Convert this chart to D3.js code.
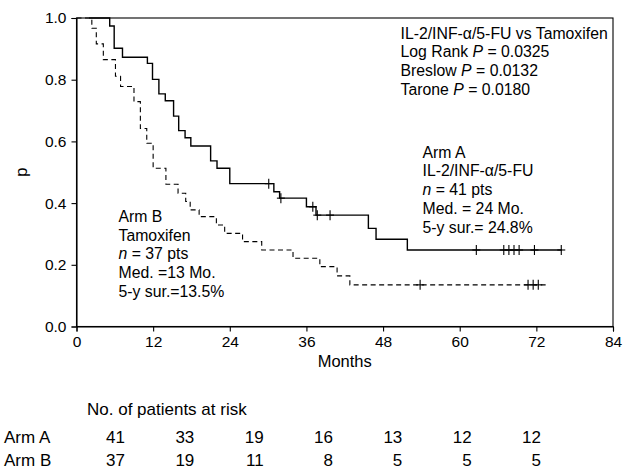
<!DOCTYPE html>
<html><head><meta charset="utf-8">
<script src="https://cdn.jsdelivr.net/npm/d3@7"></script>
<style>
body{margin:0;background:#fff}
svg{display:block}
text{font-family:"Liberation Sans",Arial,Helvetica,sans-serif;fill:#000}
</style>
</head><body>
<svg id="c" width="623" height="469"></svg>
<script>
// ---- data ----
const armATimes = [2, 5.2, 5.9, 7.2, 11.1, 11.9, 12.9, 13.9, 15.2, 16.0, 17.0, 17.9, 21.0, 22.0, 24.0, 30.9, 31.8, 36.0, 37.5, 45.7, 46.9, 51.8, 76.0];
const armASurv  = [1.0, 0.974, 0.902, 0.873, 0.853, 0.801, 0.754, 0.732, 0.682, 0.635, 0.612, 0.585, 0.537, 0.513, 0.463, 0.437, 0.416, 0.388, 0.361, 0.318, 0.283, 0.248, 0.248];
const armACensorTimes = [30.1, 32.0, 37.0, 37.7, 39.7, 62.6, 66.9, 67.7, 68.5, 69.3, 71.7, 75.9];
const armACensorSurv  = [0.463, 0.416, 0.388, 0.361, 0.361, 0.248, 0.248, 0.248, 0.248, 0.248, 0.248, 0.248];

const armBTimes = [0, 2.4, 3.1, 4.2, 6.1, 6.9, 9.0, 10.0, 11.0, 12.0, 14.0, 15.9, 17.1, 17.8, 19.2, 21.9, 23.2, 26.0, 29.0, 33.9, 38.1, 40.8, 42.8, 73.6];
const armBSurv  = [1.0, 0.967, 0.916, 0.865, 0.811, 0.778, 0.729, 0.642, 0.594, 0.513, 0.461, 0.432, 0.405, 0.378, 0.356, 0.329, 0.302, 0.275, 0.248, 0.221, 0.194, 0.164, 0.135, 0.135];
const armBCensorTimes = [53.8, 70.7, 71.5, 72.3];
const armBCensorSurv  = [0.135, 0.135, 0.135, 0.135];

const xTicks = [0, 12, 24, 36, 48, 60, 72, 84];
const yTicks = [0.0, 0.2, 0.4, 0.6, 0.8, 1.0];

const statLines = ["IL-2/INF-α/5-FU vs Tamoxifen", "Log Rank |P| = 0.0325", "Breslow |P| = 0.0132", "Tarone |P| = 0.0180"];
const armALabel = ["Arm A", "IL-2/INF-α/5-FU", "|n| = 41 pts", "Med. = 24 Mo.", "5-y sur.= 24.8%"];
const armBLabel = ["Arm B", "Tamoxifen", "|n| = 37 pts", "Med. =13 Mo.", "5-y sur.=13.5%"];

const riskTitle = "No. of patients at risk";
const riskRows = ["Arm A", "Arm B"];
const riskA = [41, 33, 19, 16, 13, 12, 12];
const riskB = [37, 19, 11, 8, 5, 5, 5];

// ---- chart ----
const svg = d3.select("#c");
const x = d3.scaleLinear().domain([0, 84]).range([76.5, 613]);
const y = d3.scaleLinear().domain([0, 1]).range([326.5, 18]);
const FS = 15.8;
const FR = 17;

// frame
svg.append("rect").attr("x", x(0)).attr("y", y(1)).attr("width", x(84) - x(0)).attr("height", y(0) - y(1))
  .attr("fill", "none").attr("stroke", "#000").attr("stroke-width", 1.1);

const xAxis = svg.append("g").attr("transform", `translate(0,${y(0)})`)
  .call(d3.axisBottom(x).tickValues(xTicks).tickSize(5).tickPadding(4).tickFormat(d3.format("d")));
const yAxis = svg.append("g").attr("transform", `translate(${x(0)},0)`)
  .call(d3.axisLeft(y).tickValues(yTicks).tickSize(5).tickPadding(5).tickFormat(d3.format(".1f")));
[xAxis, yAxis].forEach(g => {
  g.select(".domain").attr("stroke", "#000").attr("stroke-width", 1.1);
  g.selectAll(".tick line").attr("stroke", "#000").attr("stroke-width", 1.1);
  g.selectAll(".tick text").attr("font-size", 15.5).attr("font-family", "Liberation Sans, Arial, sans-serif").attr("fill", "#000");
});

svg.append("text").attr("x", (x(0) + x(84)) / 2).attr("y", 367).attr("text-anchor", "middle").attr("font-size", 16.5).text("Months");
svg.append("text").attr("transform", `translate(27,${(y(0) + y(1)) / 2}) rotate(-90)`).attr("text-anchor", "middle").attr("font-size", 16.5).text("p");

// curves
const line = d3.line().x(d => x(d[0])).y(d => y(d[1])).curve(d3.curveStepAfter);
const ptsA = armATimes.map((t, i) => [t, armASurv[i]]);
const ptsB = armBTimes.map((t, i) => [t, armBSurv[i]]);
svg.append("path").attr("d", line(ptsB)).attr("fill", "none").attr("stroke", "#000").attr("stroke-width", 1.1).attr("stroke-dasharray", "5,3.5");
svg.append("path").attr("d", line(ptsA)).attr("fill", "none").attr("stroke", "#000").attr("stroke-width", 1.4);

function censors(times, surv) {
  const g = svg.append("g").attr("stroke", "#000").attr("stroke-width", 1.1);
  times.forEach((t, i) => {
    const cx = x(t), cy = y(surv[i]);
    g.append("line").attr("x1", cx).attr("x2", cx).attr("y1", cy - 5).attr("y2", cy + 5);
    g.append("line").attr("x1", cx - 4).attr("x2", cx + 4).attr("y1", cy).attr("y2", cy);
  });
}
censors(armACensorTimes, armACensorSurv);
censors(armBCensorTimes, armBCensorSurv);

// text blocks (|...| marks italic)
function block(lines, x0, y0, dy) {
  lines.forEach((s, i) => {
    const t = svg.append("text").attr("x", x0).attr("y", y0 + i * dy).attr("font-size", FS).attr("xml:space", "preserve");
    s.split("|").forEach((part, j) => {
      if (part === "") return;
      t.append("tspan").attr("font-style", j % 2 ? "italic" : "normal").text(part);
    });
  });
}
block(statLines, 400.5, 38.5, 18.8);
block(armALabel, 422.5, 157.5, 18.8);
block(armBLabel, 118.5, 221.7, 18.8);

// risk table
const col = d3.scaleLinear().domain([0, riskA.length - 1]).range([125, 541]);
svg.append("text").attr("x", 87).attr("y", 415).attr("font-size", FR).text(riskTitle);
[riskA, riskB].forEach((row, r) => {
  const yy = 443 + r * 23;
  svg.append("text").attr("x", 4).attr("y", yy).attr("font-size", FR).text(riskRows[r]);
  row.forEach((v, i) => {
    svg.append("text").attr("x", col(i)).attr("y", yy).attr("text-anchor", "end").attr("font-size", FR).text(v);
  });
});
</script>
</body></html>
